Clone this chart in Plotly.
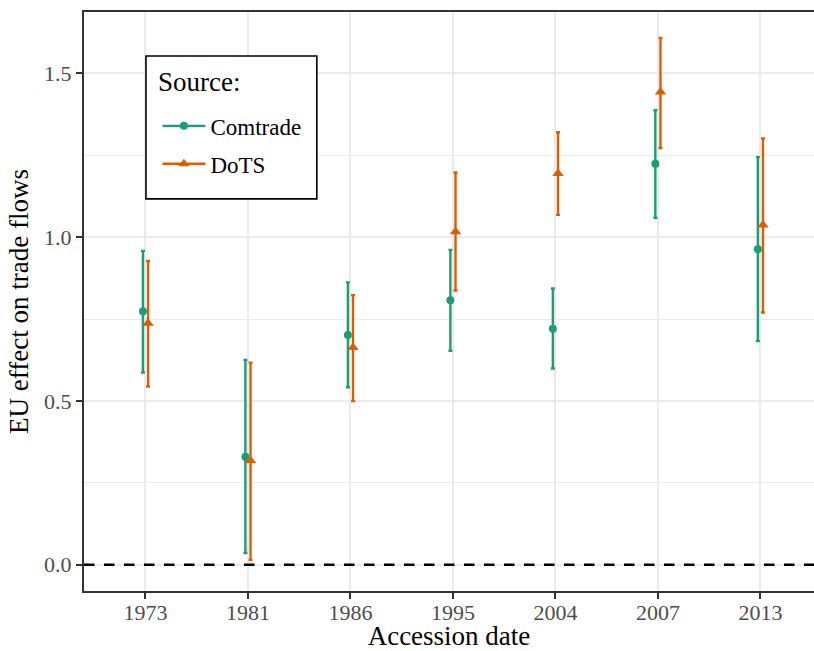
import numpy as np
import plotly.graph_objects as go

# ---- data ----
years = ["1973", "1981", "1986", "1995", "2004", "2007", "2013"]

comtrade_est = [0.774, 0.330, 0.701, 0.807, 0.720, 1.224, 0.963]
comtrade_low = [0.587, 0.036, 0.542, 0.653, 0.599, 1.059, 0.683]
comtrade_high = [0.958, 0.625, 0.862, 0.961, 0.843, 1.387, 1.244]

dots_est = [0.737, 0.318, 0.663, 1.016, 1.194, 1.443, 1.037]
dots_low = [0.544, 0.015, 0.500, 0.837, 1.068, 1.272, 0.770]
dots_high = [0.927, 0.617, 0.823, 1.197, 1.320, 1.608, 1.301]

series_names = ["Comtrade", "DoTS"]
legend_title = "Source:"
y_ticks = [0.0, 0.5, 1.0, 1.5]

# ---- style ----
GREEN = "#1B9E77"
ORANGE = "#D95F02"
FONT = "Liberation Serif, Times New Roman, serif"
GRID = "#EBEBEB"
AXIS = "#333333"

W, H = 814, 651
ML, MR, MT, MB = 83.5, 0, 11.5, 60
PW, PH = W - ML - MR, H - MT - MB

def px_x(p):  # pixel -> paper x
    return (p - ML) / PW

def px_y(p):  # pixel -> paper y
    return (H - MB - p) / PH

idx = np.arange(len(years))
dodge = 0.025

fig = go.Figure()

def add_series(name, est, low, high, offset, color, symbol, size):
    est = np.array(est); low = np.array(low); high = np.array(high)
    fig.add_trace(go.Scatter(
        x=idx + offset, y=est, mode="markers", name=name,
        showlegend=False, legendgroup=name,
        marker=dict(color=color, symbol=symbol, size=size, line=dict(width=0)),
        error_y=dict(type="data", symmetric=False, array=high - est,
                     arrayminus=est - low, color=color, thickness=2.4, width=2),
    ))
    # legend entry (point + line, like a pointrange key)
    fig.add_trace(go.Scatter(
        x=[None], y=[None], mode="lines+markers", name=name,
        legendgroup=name, showlegend=True,
        line=dict(color=color, width=2.4),
        marker=dict(color=color, symbol=symbol, size=size, line=dict(width=0)),
    ))

add_series(series_names[0], comtrade_est, comtrade_low, comtrade_high, -dodge, GREEN, "circle", 8)
add_series(series_names[1], dots_est, dots_low, dots_high, dodge, ORANGE, "triangle-up", 10)

# dashed zero line
fig.add_shape(type="line", xref="paper", yref="y", x0=0, x1=1, y0=0, y1=0,
              line=dict(color="black", width=2.5, dash="10.5px,9.5px"), layer="above")

# legend frame
fig.add_shape(type="rect", xref="paper", yref="paper",
              x0=px_x(145.5), x1=px_x(316.5), y0=px_y(198.5), y1=px_y(55.5),
              line=dict(color="black", width=1.6), fillcolor="white", layer="above")
fig.add_annotation(text=legend_title, xref="paper", yref="paper",
                   x=px_x(156), y=px_y(82), xanchor="left", yanchor="middle",
                   showarrow=False, font=dict(size=27, family=FONT, color="black"))

fig.update_layout(
    width=W, height=H,
    margin=dict(l=ML, r=MR, t=MT, b=MB, autoexpand=False),
    paper_bgcolor="white", plot_bgcolor="white",
    font=dict(family=FONT, color="black"),
    showlegend=True,
    legend=dict(
        x=px_x(157), y=px_y(104), xanchor="left", yanchor="top",
        bgcolor="rgba(0,0,0,0)", borderwidth=0,
        font=dict(size=23, family=FONT, color="black"),
        tracegroupgap=5, traceorder="grouped", itemwidth=43,
    ),
    xaxis=dict(
        range=[-0.6, 6.523], tickmode="array", tickvals=idx, ticktext=years,
        showgrid=True, gridcolor=GRID, gridwidth=2, zeroline=False,
        showline=True, linecolor=AXIS, linewidth=2, mirror=True,
        ticks="outside", ticklen=6, tickwidth=1.8, tickcolor=AXIS,
        tickfont=dict(size=22, family=FONT, color="#4D4D4D"),
        ticklabelstandoff=-5,
        automargin=False,
        title=dict(text="Accession date", font=dict(size=27, family=FONT, color="black"), standoff=10),
    ),
    yaxis=dict(
        range=[-0.08, 1.687], tickmode="array", tickvals=y_ticks,
        ticktext=[f"{v:.1f}" for v in y_ticks],
        showgrid=True, gridcolor=GRID, gridwidth=2, zeroline=False,
        showline=True, linecolor=AXIS, linewidth=2, mirror=False,
        ticks="outside", ticklen=6, tickwidth=1.8, tickcolor=AXIS,
        tickfont=dict(size=22, family=FONT, color="#4D4D4D"),
        minor=dict(tickmode="array", tickvals=[0.25, 0.75, 1.25], showgrid=True,
                   gridcolor=GRID, gridwidth=1, ticks=""),
        automargin=False,
        title=dict(text="EU effect on trade flows", font=dict(size=27, family=FONT, color="black"), standoff=8),
    ),
)

fig.write_html(
    "out.html",
    config={"displayModeBar": False},
    post_script="document.body.style.margin='0';document.body.style.overflow='hidden';",
)
